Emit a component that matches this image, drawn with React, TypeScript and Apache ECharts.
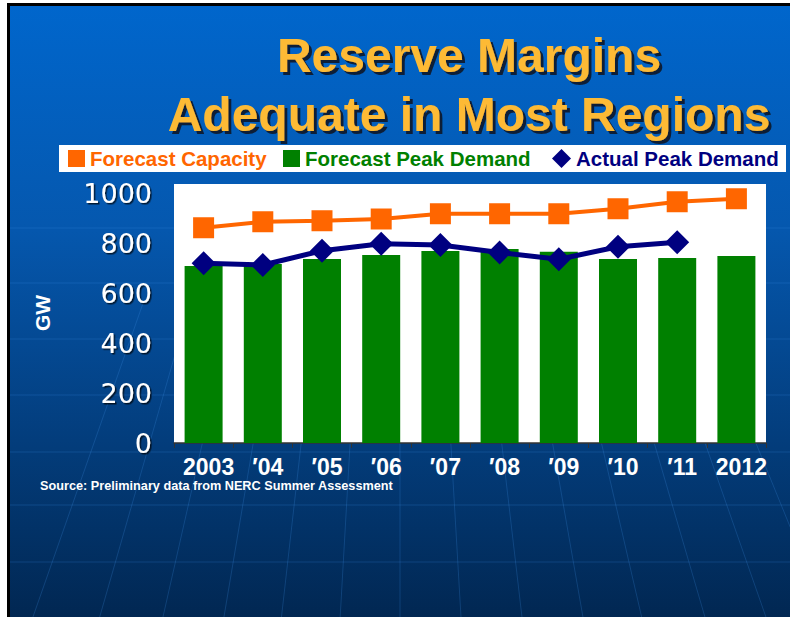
import React, { useEffect, useRef } from "react";
import * as echarts from "echarts";

const categories = ["2003", "\u203204", "\u203205", "\u203206", "\u203207", "\u203208", "\u203209", "\u203210", "\u203211", "2012"];
const forecastCapacity = [861, 885, 889, 896, 917, 917, 917, 937, 965, 977];
const forecastPeakDemand = [708, 716, 736, 752, 768, 776, 765, 736, 740, 748];
const actualPeakDemand: (number | null)[] = [719, 712, 769, 797, 792, 762, 735, 785, 803, null];
const titleLines = ["Reserve Margins", "Adequate in Most Regions"];
const sourceNote = "Source: Preliminary data from NERC Summer Assessment";
const yAxisName = "GW";

const ORANGE = "#FF6600";
const GREEN = "#008000";
const NAVY = "#000080";
const GOLD = "#FDBA35";

export default function App() {
  const ref = useRef<HTMLDivElement>(null);
  useEffect(() => {
    document.body.style.margin = "0";
    if (!ref.current) return;
    const chart = echarts.init(ref.current, undefined, { renderer: "svg" });

    const meridianBase = [81, 139, 194, 247, 297, 348, 400, 453, 506, 559, 610, 665, 718, 771];
    const parallels = [228, 283, 339, 395, 452, 505, 562];
    const xAt = (x0: number, y: number) => 400 + (x0 - 400) * (1 + (y - 480) * 0.0011);

    const graphics: any[] = [
      { type: "rect", z: -10, shape: { x: 7, y: 3, width: 790, height: 620 }, style: { fill: "#000" } },
      {
        type: "rect", z: -10,
        shape: { x: 10, y: 6, width: 790, height: 620 },
        style: {
          fill: new echarts.graphic.LinearGradient(0, 0, 0, 1, [
            { offset: 0, color: "#0066CC" },
            { offset: 0.35, color: "#0558AF" },
            { offset: 0.7, color: "#033D7C" },
            { offset: 1, color: "#012650" },
          ]),
        },
      },
    ];
    parallels.forEach((y) => {
      graphics.push({ type: "line", z: -9, shape: { x1: 10, y1: y, x2: 790, y2: y }, style: { stroke: "rgba(70,150,235,0.22)", lineWidth: 1 } });
    });
    meridianBase.forEach((x0) => {
      graphics.push({ type: "line", z: -9, shape: { x1: xAt(x0, 300), y1: 300, x2: xAt(x0, 617), y2: 617 }, style: { stroke: "rgba(70,150,235,0.22)", lineWidth: 1 } });
    });
    graphics.push(
      { type: "rect", z: -5, shape: { x: 59, y: 145, width: 727, height: 27 }, style: { fill: "#fff" } },
      { type: "rect", z: -5, shape: { x: 174, y: 184, width: 592, height: 259 }, style: { fill: "#fff" } }
    );
    const titleY = [55, 114];
    titleLines.forEach((t, i) => {
      graphics.push({
        type: "text", z: 21, x: 469, y: titleY[i],
        style: {
          text: t,
          font: "bold 48px 'Liberation Sans', Arial, sans-serif",
          fill: GOLD,
          textAlign: "center",
          textVerticalAlign: "middle",
          textShadowColor: "rgba(10,20,40,0.9)",
          textShadowOffsetX: 3,
          textShadowOffsetY: 3,
          textShadowBlur: 1,
        },
      });
    });
    graphics.push(
      {
        type: "text", z: 20, x: 42, y: 313, rotation: Math.PI / 2,
        style: { text: yAxisName, font: "bold 21px 'Liberation Sans', Arial, sans-serif", fill: "#fff", textAlign: "center", textVerticalAlign: "middle" },
      },
      {
        type: "text", z: 20, x: 40, y: 486,
        style: { text: sourceNote, font: "bold 12.7px 'Liberation Sans', Arial, sans-serif", fill: "#fff", textAlign: "left", textVerticalAlign: "middle" },
      }
    );

    const legendBase = {
      orient: "horizontal",
      top: 147,
      padding: 0,
      itemWidth: 17,
      itemHeight: 17,
      selectedMode: false,
    };
    const legendFont = { fontFamily: "'Liberation Sans', Arial, sans-serif", fontWeight: "bold", fontSize: 20.5, lineHeight: 23 };

    chart.setOption({
      animation: false,
      backgroundColor: "transparent",
      graphic: { elements: graphics },
      legend: [
        { ...legendBase, left: 68, data: [{ name: "Forecast Capacity", icon: "rect" }], textStyle: { ...legendFont, color: ORANGE } },
        { ...legendBase, left: 283, data: [{ name: "Forecast Peak Demand", icon: "rect" }], textStyle: { ...legendFont, color: GREEN } },
        { ...legendBase, left: 552, itemWidth: 19, itemHeight: 19, data: [{ name: "Actual Peak Demand", icon: "diamond" }], textStyle: { ...legendFont, color: NAVY } },
      ],
      grid: { left: 174, right: 24, top: 193, bottom: 174, containLabel: false },
      xAxis: {
        type: "category",
        data: categories,
        axisLine: { show: true, lineStyle: { color: "#333", width: 1.5 } },
        axisTick: { show: true, alignWithLabel: false, length: 5, lineStyle: { color: "#333" } },
        axisLabel: {
          color: "#fff",
          fontFamily: "'Liberation Sans', Arial, sans-serif",
          fontWeight: "bold",
          fontSize: 23,
          margin: 12,
          padding: [0, 0, 0, 10],
          interval: 0,
        },
      },
      yAxis: {
        type: "value",
        min: 0,
        max: 1000,
        interval: 200,
        axisLine: { show: false },
        axisTick: { show: false },
        splitLine: { show: false },
        axisLabel: {
          formatter: (v: number) => String(v),
          color: "#fff",
          fontFamily: "'DejaVu Sans', Verdana, sans-serif",
          fontSize: 27,
          margin: 22,
          padding: [8, 0, 0, 0],
          textShadowColor: "rgba(0,0,0,0.7)",
          textShadowOffsetX: 1.5,
          textShadowOffsetY: 1.5,
          textShadowBlur: 1,
        },
      },
      series: [
        {
          name: "Forecast Peak Demand",
          type: "bar",
          data: forecastPeakDemand,
          barWidth: 38,
          itemStyle: { color: GREEN },
          z: 2,
        },
        {
          name: "Forecast Capacity",
          type: "line",
          data: forecastCapacity,
          symbol: "rect",
          symbolSize: 21,
          lineStyle: { color: ORANGE, width: 4 },
          itemStyle: { color: ORANGE },
          z: 3,
        },
        {
          name: "Actual Peak Demand",
          type: "line",
          data: actualPeakDemand,
          symbol: "diamond",
          symbolSize: 24,
          connectNulls: false,
          lineStyle: { color: NAVY, width: 5 },
          itemStyle: { color: NAVY },
          z: 4,
        },
      ],
    });
    return () => chart.dispose();
  }, []);
  return <div ref={ref} style={{ width: 790, height: 617 }} />;
}
